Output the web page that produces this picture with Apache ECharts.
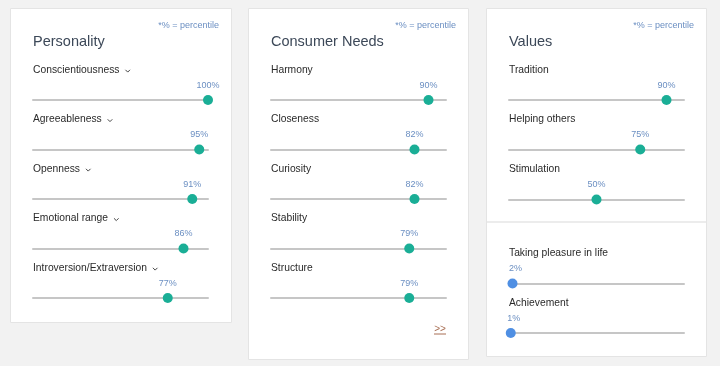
<!DOCTYPE html>
<html>
<head>
<meta charset="utf-8">
<script src="https://cdn.jsdelivr.net/npm/echarts@6/dist/echarts.min.js"></script>
<style>
html,body{margin:0;padding:0;background:#f2f2f2;}
#chart{width:720px;height:366px;}
</style>
</head>
<body>
<div id="chart"></div>
<script>
// ---- data ----
const panelTitles = ['Personality', 'Consumer Needs', 'Values'];
const percentileNote = '*% = percentile';
const personalityTraits = ['Conscientiousness', 'Agreeableness', 'Openness', 'Emotional range', 'Introversion/Extraversion'];
const personalityValues = [100, 95, 91, 86, 77];
const needsTraits = ['Harmony', 'Closeness', 'Curiosity', 'Stability', 'Structure'];
const needsValues = [90, 82, 82, 79, 79];
const valuesTraits = ['Tradition', 'Helping others', 'Stimulation', 'Taking pleasure in life', 'Achievement'];
const valuesValues = [90, 75, 50, 2, 1];
const moreLink = '>>';

// ---- layout / style ----
const FONT = '"Liberation Sans", Arial, Helvetica, sans-serif';
const TEAL = '#1aae96';
const BLUE = '#4f8fe3';
const TRACK_W = 175;
const panels = [
  {x: 10, y: 8, w: 221, h: 314, trackX: 33, title: panelTitles[0], traits: personalityTraits, vals: personalityValues,
   rows: [100, 149.5, 199, 248.5, 298], chevron: true},
  {x: 248, y: 8, w: 220, h: 351, trackX: 271, title: panelTitles[1], traits: needsTraits, vals: needsValues,
   rows: [100, 149.5, 199, 248.5, 298], chevron: false, link: true},
  {x: 486, y: 8, w: 220, h: 348, trackX: 509, title: panelTitles[2], traits: valuesTraits, vals: valuesValues,
   rows: [100, 149.5, 199.5, 283.5, 333], chevron: false, sep: 222, lowColorFrom: 3}
];

const ctx = document.createElement('canvas').getContext('2d');
function textW(t, size) { ctx.font = size + 'px ' + FONT; return ctx.measureText(t).width; }

const graphic = [];
const grids = [], xAxes = [], yAxes = [], series = [];

panels.forEach((p, pi) => {
  graphic.push({type: 'rect', z: -10, shape: {x: p.x + 0.5, y: p.y + 0.5, width: p.w, height: p.h},
    style: {fill: '#ffffff', stroke: '#e4e4e4', lineWidth: 1}});
  graphic.push({type: 'text', z: 10, x: p.x + p.w - 12, y: 26,
    style: {text: percentileNote, font: '9px ' + FONT, fill: '#6b8fc2', textAlign: 'right', textVerticalAlign: 'middle'}});
  graphic.push({type: 'text', z: 10, x: p.trackX, y: 41.5,
    style: {text: p.title, font: '14.5px ' + FONT, fill: '#3c4858', textAlign: 'left', textVerticalAlign: 'middle'}});
  if (p.sep) {
    graphic.push({type: 'line', z: -5, shape: {x1: p.x + 1, y1: p.sep, x2: p.x + p.w, y2: p.sep},
      style: {stroke: '#ececec', lineWidth: 2}});
  }
  if (p.link) {
    graphic.push({type: 'text', z: 10, x: 440, y: 329,
      style: {text: moreLink, font: '10px ' + FONT, fill: '#a86f55', textAlign: 'center', textVerticalAlign: 'middle'}});
    graphic.push({type: 'line', z: 10, shape: {x1: 434, y1: 334, x2: 446, y2: 334},
      style: {stroke: '#a86f55', lineWidth: 1}});
  }
  p.traits.forEach((name, ri) => {
    const ty = p.rows[ri];
    const ly = ty - 30;
    graphic.push({type: 'text', z: 10, x: p.trackX, y: ly,
      style: {text: name, font: '10.3px ' + FONT, fill: '#2a2a2a', textAlign: 'left', textVerticalAlign: 'middle'}});
    if (p.chevron) {
      const cx = p.trackX + textW(name, 10.3) + 6;
      graphic.push({type: 'polyline', z: 10, shape: {points: [[cx, ly - 0.2], [cx + 2.3, ly + 2.1], [cx + 4.6, ly - 0.2]]},
        style: {stroke: '#444444', lineWidth: 1, fill: null}});
    }
    const gi = grids.length;
    grids.push({left: p.trackX, width: TRACK_W, top: ty - 20, height: 20, containLabel: false});
    xAxes.push({gridIndex: gi, type: 'value', min: 0, max: 100, position: 'bottom',
      axisLine: {show: true, lineStyle: {color: '#c6c6c6', width: 2}},
      axisTick: {show: false}, axisLabel: {show: false}, splitLine: {show: false}});
    yAxes.push({gridIndex: gi, type: 'value', min: 0, max: 1, show: false, splitLine: {show: false}});
    const v = p.vals[ri];
    const low = p.lowColorFrom !== undefined && ri >= p.lowColorFrom;
    series.push({type: 'scatter', xAxisIndex: gi, yAxisIndex: gi, clip: false, silent: true,
      symbol: 'circle', symbolSize: 10,
      itemStyle: {color: low ? BLUE : TEAL, opacity: 1},
      label: {show: true, position: 'top', distance: 5, formatter: (d) => d.value[0] + '%',
        fontFamily: FONT, fontSize: 9, color: '#6b8fc2', offset: low ? [3, 0] : [0, 0]},
      data: [[v, 0]]});
  });
});

const chart = echarts.init(document.getElementById('chart'), null, {renderer: 'canvas'});
chart.setOption({
  backgroundColor: '#f2f2f2',
  animation: false,
  grid: grids, xAxis: xAxes, yAxis: yAxes, series: series,
  graphic: graphic
});
</script>
</body>
</html>
